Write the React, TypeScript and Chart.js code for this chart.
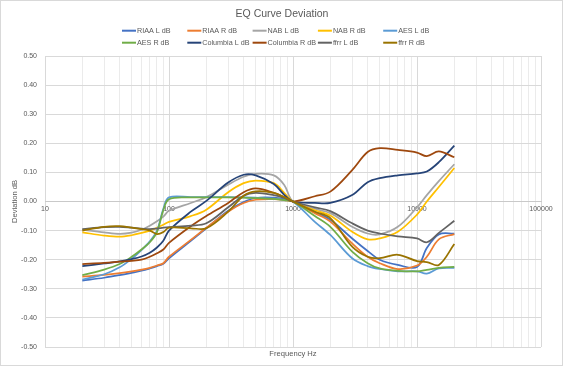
import React, { useEffect, useRef } from "react";
import { Chart, registerables } from "chart.js";
Chart.register(...registerables);

const TITLE = "EQ Curve Deviation";
const X_TITLE = "Frequency Hz";
const Y_TITLE = "Deviation dB";

const FREQS = [20, 30, 40, 50, 60, 70, 80, 90, 100, 150, 200, 300, 400, 500, 700, 850, 1000, 1500, 2000, 3000, 4000, 5000, 7000, 10000, 12000, 15000, 20000];

const SERIES_NAMES = ["RIAA L dB", "RIAA R dB", "NAB L dB", "NAB R dB", "AES L dB", "AES R dB", "Columbia L dB", "Columbia R dB", "ffrr L dB", "ffrr R dB"];

const riaaL = [-0.272, -0.262, -0.253, -0.245, -0.238, -0.23, -0.222, -0.214, -0.195, -0.135, -0.092, -0.032, -0.002, 0.012, 0.013, 0.008, 0, -0.035, -0.063, -0.127, -0.17, -0.2, -0.218, -0.225, -0.16, -0.113, -0.11];
const riaaR = [-0.258, -0.252, -0.246, -0.24, -0.234, -0.228, -0.22, -0.212, -0.19, -0.132, -0.09, -0.035, -0.005, 0.006, 0.008, 0.005, 0, -0.04, -0.069, -0.144, -0.19, -0.212, -0.232, -0.22, -0.19, -0.13, -0.112];
const nabL = [-0.097, -0.106, -0.111, -0.107, -0.097, -0.083, -0.068, -0.052, -0.032, -0.005, 0.015, 0.058, 0.085, 0.095, 0.09, 0.057, 0, -0.025, -0.04, -0.087, -0.11, -0.113, -0.087, -0.02, 0.022, 0.07, 0.128];
const nabR = [-0.106, -0.117, -0.121, -0.116, -0.108, -0.1, -0.09, -0.08, -0.07, -0.05, -0.028, 0.032, 0.063, 0.072, 0.063, 0.03, 0, -0.03, -0.048, -0.104, -0.13, -0.127, -0.104, -0.045, 0.0, 0.05, 0.115];
const aesL = [-0.268, -0.25, -0.226, -0.197, -0.167, -0.137, -0.1, -0.025, 0.014, 0.015, 0.015, 0.015, 0.014, 0.013, 0.01, 0.006, 0, -0.07, -0.115, -0.195, -0.222, -0.232, -0.24, -0.24, -0.248, -0.23, -0.228];
const aesR = [-0.253, -0.234, -0.215, -0.19, -0.165, -0.14, -0.105, -0.03, 0.008, 0.014, 0.014, 0.014, 0.013, 0.012, 0.009, 0.005, 0, -0.05, -0.087, -0.172, -0.212, -0.23, -0.238, -0.24, -0.235, -0.228, -0.225];
const columbiaL = [-0.222, -0.213, -0.206, -0.198, -0.189, -0.176, -0.158, -0.135, -0.1, -0.035, 0.002, 0.065, 0.092, 0.09, 0.06, 0.023, 0, -0.005, -0.005, 0.022, 0.066, 0.08, 0.09, 0.097, 0.103, 0.135, 0.192];
const columbiaR = [-0.215, -0.211, -0.207, -0.204, -0.2, -0.19, -0.178, -0.165, -0.142, -0.085, -0.05, -0.005, 0.032, 0.045, 0.03, 0.015, 0, 0.018, 0.034, 0.108, 0.17, 0.183, 0.177, 0.168, 0.156, 0.172, 0.152];
const ffrrL = [-0.095, -0.088, -0.087, -0.09, -0.093, -0.095, -0.093, -0.09, -0.088, -0.083, -0.075, -0.02, 0.02, 0.03, 0.022, 0.012, 0, -0.02, -0.033, -0.075, -0.1, -0.11, -0.12, -0.127, -0.14, -0.108, -0.066];
const ffrrR = [-0.1, -0.087, -0.085, -0.09, -0.095, -0.1, -0.112, -0.105, -0.09, -0.092, -0.092, -0.035, 0.02, 0.035, 0.03, 0.015, 0, -0.035, -0.057, -0.155, -0.19, -0.195, -0.183, -0.205, -0.208, -0.218, -0.146];

const SERIES_VALUES = [riaaL, riaaR, nabL, nabR, aesL, aesR, columbiaL, columbiaR, ffrrL, ffrrR];
const COLORS = ["#4472C4", "#ED7D31", "#A5A5A5", "#FFC000", "#5B9BD5", "#70AD47", "#264478", "#9E480E", "#636363", "#997300"];

const X_TICKS = (() => {
  const t: number[] = [];
  for (let d = 10; d < 100000; d *= 10) for (let m = 1; m <= 9; m++) t.push(m * d);
  t.push(100000);
  return t;
})();

const FONT = '"Liberation Sans", Arial, sans-serif';
const TEXT = "#595959";

const decorPlugin = {
  id: "decor",
  beforeDraw(chart: any) {
    const ctx = chart.ctx;
    ctx.save();
    ctx.fillStyle = "#ffffff";
    ctx.fillRect(0, 0, chart.width, chart.height);
    ctx.strokeStyle = "#d9d9d9";
    ctx.lineWidth = 1;
    ctx.strokeRect(0.5, 0.5, 562, 365);
    ctx.restore();
  },
  afterDraw(chart: any) {
    const ctx = chart.ctx;
    ctx.save();
    ctx.fillStyle = TEXT;
    ctx.font = `10.5px ${FONT}`;
    ctx.textAlign = "center";
    ctx.textBaseline = "middle";
    ctx.fillText(TITLE, 282, 14);
    ctx.font = `7.2px ${FONT}`;
    ctx.textAlign = "left";
    chart.data.datasets.forEach((ds: any, i: number) => {
      const col = i % 5;
      const row = Math.floor(i / 5);
      const x0 = 122 + col * 65.3;
      const y = 30.7 + row * 12;
      ctx.strokeStyle = ds.borderColor;
      ctx.lineWidth = 2;
      ctx.beginPath();
      ctx.moveTo(x0, y);
      ctx.lineTo(x0 + 14, y);
      ctx.stroke();
      ctx.fillStyle = TEXT;
      ctx.fillText(ds.label, x0 + 15, y + 0.5);
    });
    ctx.restore();
  },
};

export default function App() {
  const ref = useRef<HTMLCanvasElement | null>(null);
  useEffect(() => {
    document.body.style.margin = "0";
    const canvas = ref.current!;
    const n = SERIES_NAMES.length;
    const chart = new Chart(canvas, {
      type: "line",
      data: {
        datasets: SERIES_NAMES.map((name, i) => ({
          label: name,
          data: FREQS.map((f, k) => ({ x: f, y: SERIES_VALUES[i][k] })),
          borderColor: COLORS[i],
          backgroundColor: COLORS[i],
          borderWidth: 1.75,
          pointRadius: 0,
          tension: 0.35,
          fill: false,
          order: n - i,
        })),
      },
      options: {
        responsive: false,
        animation: false,
        layout: { padding: { left: 0, top: 56, right: 47, bottom: 0 } },
        plugins: { legend: { display: false }, title: { display: false }, tooltip: { enabled: false } },
        scales: {
          x: {
            type: "logarithmic",
            min: 10,
            max: 100000,
            position: { y: 0 } as any,
            afterBuildTicks: (axis: any) => {
              axis.ticks = X_TICKS.map((v) => ({ value: v }));
            },
            ticks: {
              autoSkip: false,
              maxRotation: 0,
              padding: 3,
              color: TEXT,
              font: { family: FONT, size: 7 },
              callback: (v: any) => {
                const lg = Math.log10(Number(v));
                return Math.abs(lg - Math.round(lg)) < 1e-9 ? String(Number(v)) : "";
              },
            },
            grid: {
              drawTicks: false,
              color: (c: any) => {
                const v = c.tick ? c.tick.value : 0;
                const lg = Math.log10(v);
                return Math.abs(lg - Math.round(lg)) < 1e-9 ? "#d9d9d9" : "#ebebeb";
              },
              lineWidth: 1,
            },
            border: { display: true, color: "#c9c9c9", width: 1 },
          },
          x2: {
            type: "linear",
            position: "bottom",
            display: true,
            ticks: { display: false },
            grid: { display: false, drawTicks: false },
            border: { display: false },
            title: { display: true, text: X_TITLE, color: TEXT, font: { family: FONT, size: 7.6 }, padding: { top: 0, bottom: 10 } },
            afterFit: (s: any) => {
              s.height = 21;
            },
          },
          y: {
            type: "linear",
            min: -0.5,
            max: 0.5,
            ticks: {
              stepSize: 0.1,
              padding: 8,
              color: TEXT,
              font: { family: FONT, size: 7 },
              callback: (v: any) => Number(v).toFixed(2),
            },
            grid: { drawTicks: false, color: "#d9d9d9", lineWidth: 1 },
            border: { display: false },
            title: { display: true, text: Y_TITLE, color: TEXT, font: { family: FONT, size: 7.6 }, padding: { top: 10, bottom: 0 } },
            afterFit: (s: any) => {
              s.width = 45;
            },
          },
        },
      },
      plugins: [decorPlugin],
    } as any);
    return () => chart.destroy();
  }, []);
  return (
    <div style={{ width: 588, height: 368, position: "relative" }}>
      <canvas ref={ref} width={588} height={368} style={{ display: "block", width: 588, height: 368 }} />
    </div>
  );
}
